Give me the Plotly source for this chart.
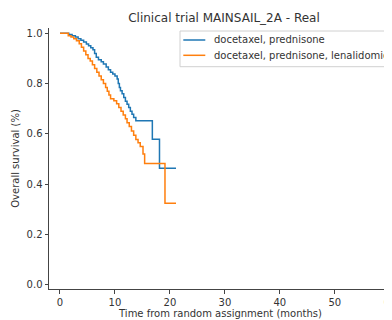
import plotly.graph_objects as go

title = "Clinical trial MAINSAIL_2A - Real"
series_names = ["docetaxel, prednisone", "docetaxel, prednisone, lenalidomide"]
series_colors = ["#1f77b4", "#ff7f0e"]

blue_t = [0, 1.6, 2.2, 2.8, 3.3, 3.8, 4.3, 4.8, 5.2, 5.6, 6.0, 6.3, 6.6, 7.0, 7.5, 7.9, 8.4, 8.8,
          9.2, 9.6, 10.0, 10.4, 10.6, 10.8, 11.0, 11.3, 11.6, 11.9, 12.2, 12.5, 12.8, 13.1, 13.4,
          13.8, 16.8, 18.1, 21.1]
blue_s = [1.0, 0.995, 0.99, 0.985, 0.978, 0.972, 0.965, 0.957, 0.95, 0.943, 0.935, 0.92, 0.905,
          0.895, 0.887, 0.878, 0.866, 0.855, 0.845, 0.838, 0.83, 0.818, 0.80, 0.785, 0.772, 0.76,
          0.745, 0.73, 0.718, 0.705, 0.69, 0.678, 0.665, 0.652, 0.579, 0.464, 0.464]

orange_t = [0, 1.5, 2.0, 2.5, 3.0, 3.5, 3.9, 4.3, 4.7, 5.1, 5.5, 5.9, 6.3, 6.7, 7.1, 7.5, 7.9, 8.3,
            8.6, 8.9, 9.2, 9.8, 10.3, 10.7, 11.1, 11.5, 11.9, 12.2, 12.6, 13.0, 13.4, 13.8, 14.2,
            14.6, 15.1, 15.4, 19.1, 21.1]
orange_s = [1.0, 0.99, 0.985, 0.978, 0.97, 0.958, 0.945, 0.93, 0.915, 0.9, 0.89, 0.875, 0.86,
            0.845, 0.83, 0.815, 0.80, 0.785, 0.77, 0.755, 0.74, 0.732, 0.72, 0.705, 0.69, 0.675,
            0.66, 0.645, 0.63, 0.612, 0.595, 0.578, 0.565, 0.55, 0.52, 0.483, 0.325, 0.325]

x_ticks = [0, 10, 20, 30, 40, 50, 60]
y_ticks = [0.0, 0.2, 0.4, 0.6, 0.8, 1.0]

FONT = "DejaVu Sans"
W, H = 384, 312  # page body has an 8px margin
L, T, B = 41, 20, 31
PW, PH = W - L, H - T - B

fig = go.Figure()
fig.add_trace(go.Scatter(x=blue_t, y=blue_s, mode="lines", line_shape="hv",
                         line=dict(color=series_colors[0], width=1.5), name=series_names[0]))
fig.add_trace(go.Scatter(x=orange_t, y=orange_s, mode="lines", line_shape="hv",
                         line=dict(color=series_colors[1], width=1.5), name=series_names[1]))

axis_common = dict(showgrid=False, zeroline=False, showline=True, linecolor="#444", linewidth=1,
                   ticks="outside", ticklen=3.5, tickwidth=1, tickcolor="#444", automargin=False,
                   ticklabeloverflow="allow",
                   tickfont=dict(family=FONT, size=10, color="#333"))


# legend drawn in figure pixel space (converted to paper coords)
def px(x):
    return (x - L) / PW


def py(y):
    return 1 - (y - T) / PH


shapes = [dict(type="rect", xref="paper", yref="paper", x0=px(172), x1=px(400), y0=py(23),
               y1=py(58.7), line=dict(color="#d0d0d0", width=1), fillcolor="rgba(255,255,255,0.8)",
               layer="above")]
annotations = []
for i, (name, col) in enumerate(zip(series_names, series_colors)):
    yc = 32 + i * 15.3
    shapes.append(dict(type="line", xref="paper", yref="paper", x0=px(175.3), x1=px(197.3),
                       y0=py(yc), y1=py(yc), line=dict(color=col, width=1.5), layer="above"))
    annotations.append(dict(text=name, xref="paper", yref="paper", x=px(204), y=py(yc),
                            xanchor="left", yanchor="middle", showarrow=False,
                            font=dict(family=FONT, size=10, color="#333")))

fig.update_layout(
    width=W, height=H,
    margin=dict(l=L, r=0, t=T, b=B, autoexpand=False),
    paper_bgcolor="white", plot_bgcolor="white",
    font=dict(family=FONT, size=10, color="#333"),
    title=dict(text=title, x=216 / W, xanchor="center", y=1 - 9.5 / H, yanchor="middle",
               font=dict(family=FONT, size=12, color="#333")),
    xaxis=dict(range=[-2.0, 60.4], tickvals=x_ticks, ticktext=[str(v) for v in x_ticks],
               title=dict(text="Time from random assignment (months)", standoff=3,
                          font=dict(family=FONT, size=10, color="#333")),
               **axis_common),
    yaxis=dict(range=[-0.016, 1.021], tickvals=y_ticks, ticktext=[f"{v:.1f}" for v in y_ticks],
               title=dict(text="Overall survival (%)", standoff=5,
                          font=dict(family=FONT, size=10, color="#333")),
               **axis_common),
    shapes=shapes,
    annotations=annotations,
    showlegend=False,
)

fig.write_html("out.html")
